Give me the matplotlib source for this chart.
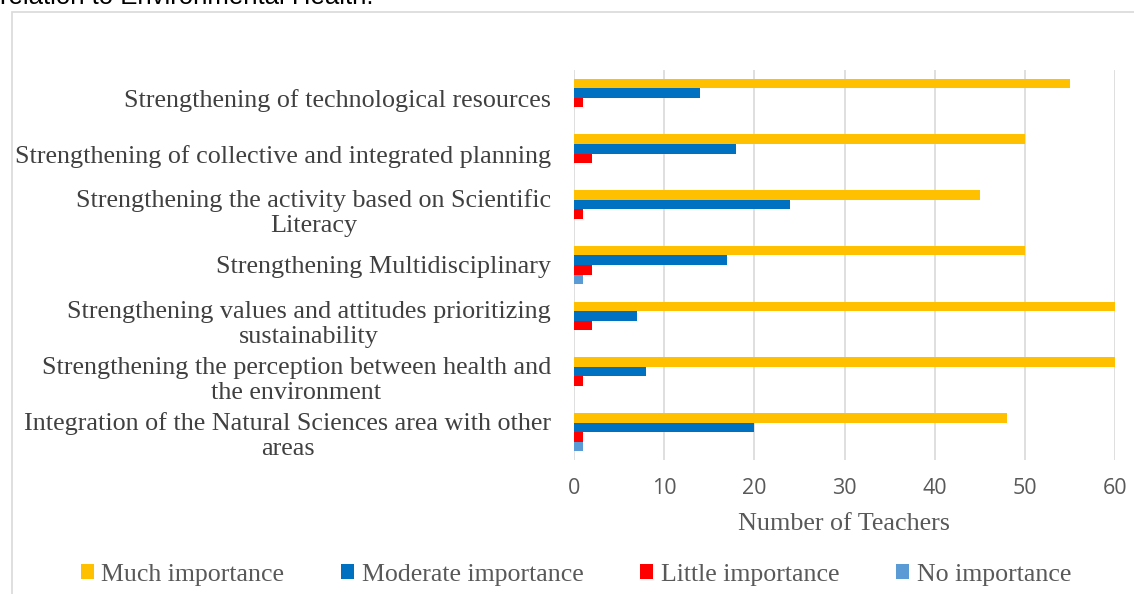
import numpy as np
import matplotlib.pyplot as plt
from matplotlib.patches import Rectangle

# === DATOS ===
categories = [
    "Strengthening of technological resources",
    "Strengthening of collective and integrated planning",
    "Strengthening the activity based on Scientific\nLiteracy",
    "Strengthening Multidisciplinary",
    "Strengthening values and attitudes prioritizing\nsustainability",
    "Strengthening the perception between health and\nthe environment",
    "Integration of the Natural Sciences area with other\nareas",
]
much = [55, 50, 45, 50, 60, 60, 48]
moderate = [14, 18, 24, 17, 7, 8, 20]
little = [1, 2, 1, 2, 2, 1, 1]
none_imp = [0, 0, 0, 1, 0, 0, 1]

series_names = ["Much importance", "Moderate importance", "Little importance", "No importance"]
series_values = [much, moderate, little, none_imp]
colores = ["#FFC000", "#0070C0", "#FF0000", "#5B9BD5"]
x_ticks = [0, 10, 20, 30, 40, 50, 60]

serif = "Liberation Serif"
sans = "Open Sans"
gris = "#595959"

# === FIGURA ===
fig = plt.figure(figsize=(11.34, 5.94), dpi=100)
ax = fig.add_axes([574 / 1134, 1 - 460 / 594, 541 / 1134, 390 / 594])

# marco del gráfico
fig.patches.append(Rectangle((12 / 1134, -0.05), 1.2, 1 - 12 / 594 + 0.05,
                             transform=fig.transFigure, fill=False,
                             edgecolor="#d9d9d9", linewidth=1.2))

# texto cortado arriba
fig.text(0.0, 1 - 4 / 594, "relation to Environmental Health.", family="Liberation Sans",
         fontsize=18.5, color="black", ha="left", va="baseline")

y = np.arange(len(categories))
h = 0.172
offsets = [-1.5 * h, -0.5 * h, 0.5 * h, 1.5 * h]
for name, vals, col, off in zip(series_names, series_values, colores, offsets):
    ax.barh(y + off, vals, height=h, color=col, label=name, clip_on=False, zorder=3)

ax.set_xlim(0, 60)
ax.set_ylim(len(categories) - 0.5, -0.5)
ax.set_xticks(x_ticks)
ax.set_xticklabels([str(t) for t in x_ticks], family=sans, fontsize=15.5, color=gris)
ax.set_yticks(y)
ax.set_yticklabels(categories, family=serif, fontsize=18.8, color="#404040",
                   multialignment="center", linespacing=1.17)
ax.tick_params(axis="both", length=0)
ax.tick_params(axis="x", pad=13)
ax.tick_params(axis="y", pad=16.5)
for s in ax.spines.values():
    s.set_visible(False)
ax.grid(axis="x", color="#d9d9d9", linewidth=1.2, zorder=0)
ax.set_axisbelow(True)

ax.set_xlabel("Number of Teachers", family=serif, fontsize=18.8, color=gris, labelpad=10)

handles, labels = ax.get_legend_handles_labels()
fig.legend(handles, labels, loc="center", bbox_to_anchor=(576 / 1134, 1 - 575 / 594),
           ncol=4, frameon=False, prop={"family": serif, "size": 18.6},
           labelcolor=gris, handlelength=0.5, handleheight=0.5, handletextpad=0.3,
           columnspacing=2.2)

plt.savefig("out.png", dpi=100)
plt.close()
